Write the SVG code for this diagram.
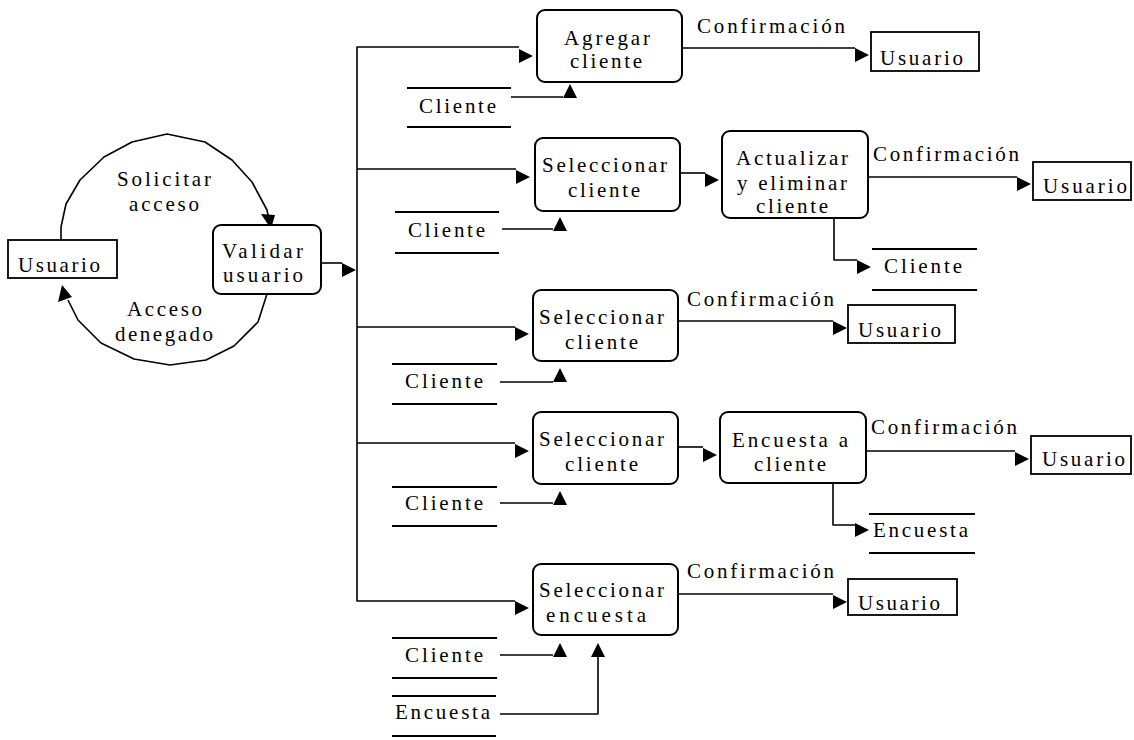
<svg xmlns="http://www.w3.org/2000/svg" xmlns:xlink="http://www.w3.org/1999/xlink" width="1134" height="740" viewBox="0 0 1134 740">
  <style>
    text { font-family: "Liberation Serif", "Times New Roman", serif; font-size: 21px; fill: #000; }
    .proc { fill: #fff; stroke: #000; stroke-width: 2; }
    .ent { fill: #fff; stroke: #000; stroke-width: 1.8; }
    .store { stroke: #000; stroke-width: 2.2; fill: none; }
    .flow { stroke: #000; stroke-width: 1.6; fill: none; stroke-linejoin: round; }
    .head { fill: #000; stroke: none; }
  </style>
  <defs>
    <path id="arrR" d="M0,0 L0,14 L14,7 Z"/>
    <path id="arrU" d="M0,14 L14,14 L7,0 Z"/>
  </defs>
  <rect width="1134" height="740" fill="#fff"/>

  <!-- connectors -->
  <g id="connectors">
    <!-- access loop -->
    <polyline class="flow" points="61,240 61,227 66,204 80,180 104,157 132,142 167,134 205,142 232,160 252,182 267,210 268,215"/>
    <polygon class="head" points="261,214 275,215 271,229"/>
    <polyline class="flow" points="267,294 258,322 234,346 206,360 170,365 134,359 101,343 78,320 68,300"/>
    <polygon class="head" points="58,302 72,297 62,285"/>

    <!-- Validar usuario to bus -->
    <path class="flow" d="M321,263 H342"/>
    <use class="head" href="#arrR" x="342" y="263"/>

    <!-- bus -->
    <path class="flow" d="M519,47 H357 V601 H515"/>
    <path class="flow" d="M357,169 H516"/>
    <path class="flow" d="M357,327 H515"/>
    <path class="flow" d="M357,443 H515"/>
    <use class="head" href="#arrR" x="519" y="49"/>
    <use class="head" href="#arrR" x="516" y="170"/>
    <use class="head" href="#arrR" x="515" y="327"/>
    <use class="head" href="#arrR" x="515" y="444"/>
    <use class="head" href="#arrR" x="515" y="601"/>

    <!-- store reads -->
    <path class="flow" d="M511,97 H563"/>
    <use class="head" href="#arrU" x="563" y="84"/>
    <path class="flow" d="M502,229 H553"/>
    <use class="head" href="#arrU" x="553" y="217"/>
    <path class="flow" d="M500,382 H553"/>
    <use class="head" href="#arrU" x="553" y="368"/>
    <path class="flow" d="M500,503 H553"/>
    <use class="head" href="#arrU" x="553" y="491"/>
    <path class="flow" d="M500,655 H553"/>
    <use class="head" href="#arrU" x="553" y="643"/>
    <path class="flow" d="M500,714 H598 V657"/>
    <use class="head" href="#arrU" x="591" y="643"/>

    <!-- process outputs -->
    <path class="flow" d="M682,48 H855"/>
    <use class="head" href="#arrR" x="855" y="48"/>
    <path class="flow" d="M680,173 H705"/>
    <use class="head" href="#arrR" x="705" y="173"/>
    <path class="flow" d="M868,177 H1017"/>
    <use class="head" href="#arrR" x="1017" y="177"/>
    <path class="flow" d="M834,218 V260 H857"/>
    <use class="head" href="#arrR" x="857" y="260"/>
    <path class="flow" d="M678,321 H833"/>
    <use class="head" href="#arrR" x="833" y="321"/>
    <path class="flow" d="M678,447 H703"/>
    <use class="head" href="#arrR" x="703" y="448"/>
    <path class="flow" d="M866,451 H1015"/>
    <use class="head" href="#arrR" x="1015" y="452"/>
    <path class="flow" d="M833,483 V525 H855"/>
    <use class="head" href="#arrR" x="855" y="523"/>
    <path class="flow" d="M678,594 H833"/>
    <use class="head" href="#arrR" x="833" y="595"/>

    <!-- flow labels -->
    <text x="117" y="186" textLength="94" lengthAdjust="spacing">Solicitar</text>
    <text x="129" y="211" textLength="70" lengthAdjust="spacing">acceso</text>
    <text x="127" y="316" textLength="75" lengthAdjust="spacing">Acceso</text>
    <text x="115" y="341" textLength="98" lengthAdjust="spacing">denegado</text>
    <text x="697" y="33" textLength="148" lengthAdjust="spacing">Confirmación</text>
    <text x="873" y="161" textLength="146" lengthAdjust="spacing">Confirmación</text>
    <text x="687" y="306" textLength="147" lengthAdjust="spacing">Confirmación</text>
    <text x="871" y="434" textLength="146" lengthAdjust="spacing">Confirmación</text>
    <text x="687" y="578" textLength="147" lengthAdjust="spacing">Confirmación</text>
  </g>

  <!-- external entities -->
  <g id="usuario-0">
    <rect class="ent" x="8" y="240" width="109" height="38"/>
    <text x="18" y="272" textLength="82" lengthAdjust="spacing">Usuario</text>
  </g>
  <g id="usuario-1">
    <rect class="ent" x="871" y="32" width="108" height="39"/>
    <text x="880" y="65" textLength="83" lengthAdjust="spacing">Usuario</text>
  </g>
  <g id="usuario-2">
    <rect class="ent" x="1033" y="162" width="98" height="38"/>
    <text x="1043" y="193" textLength="84" lengthAdjust="spacing">Usuario</text>
  </g>
  <g id="usuario-3">
    <rect class="ent" x="848" y="305" width="107" height="38"/>
    <text x="858" y="337" textLength="83" lengthAdjust="spacing">Usuario</text>
  </g>
  <g id="usuario-4">
    <rect class="ent" x="1031" y="436" width="100" height="38"/>
    <text x="1042" y="466" textLength="83" lengthAdjust="spacing">Usuario</text>
  </g>
  <g id="usuario-5">
    <rect class="ent" x="848" y="579" width="109" height="36"/>
    <text x="858" y="610" textLength="82" lengthAdjust="spacing">Usuario</text>
  </g>

  <!-- processes -->
  <g id="validar-usuario">
    <rect class="proc" x="213" y="225" width="108" height="69" rx="8"/>
    <text x="222" y="258" textLength="81" lengthAdjust="spacing">Validar</text>
    <text x="223" y="282" textLength="80" lengthAdjust="spacing">usuario</text>
  </g>
  <g id="agregar-cliente">
    <rect class="proc" x="537" y="10" width="145" height="72" rx="8"/>
    <text x="564" y="45" textLength="86" lengthAdjust="spacing">Agregar</text>
    <text x="570" y="68" textLength="72" lengthAdjust="spacing">cliente</text>
  </g>
  <g id="seleccionar-cliente-1">
    <rect class="proc" x="535" y="138" width="145" height="73" rx="8"/>
    <text x="542" y="172" textLength="125" lengthAdjust="spacing">Seleccionar</text>
    <text x="568" y="197" textLength="72" lengthAdjust="spacing">cliente</text>
  </g>
  <g id="actualizar-eliminar">
    <rect class="proc" x="722" y="131" width="146" height="87" rx="8"/>
    <text x="736" y="165" textLength="112" lengthAdjust="spacing">Actualizar</text>
    <text x="737" y="190" textLength="110" lengthAdjust="spacing">y eliminar</text>
    <text x="756" y="213" textLength="72" lengthAdjust="spacing">cliente</text>
  </g>
  <g id="seleccionar-cliente-2">
    <rect class="proc" x="533" y="290" width="145" height="71" rx="8"/>
    <text x="539" y="324" textLength="125" lengthAdjust="spacing">Seleccionar</text>
    <text x="565" y="349" textLength="73" lengthAdjust="spacing">cliente</text>
  </g>
  <g id="seleccionar-cliente-3">
    <rect class="proc" x="533" y="412" width="145" height="72" rx="8"/>
    <text x="539" y="446" textLength="125" lengthAdjust="spacing">Seleccionar</text>
    <text x="565" y="471" textLength="73" lengthAdjust="spacing">cliente</text>
  </g>
  <g id="encuesta-cliente">
    <rect class="proc" x="720" y="412" width="146" height="71" rx="8"/>
    <text x="732" y="447" textLength="116" lengthAdjust="spacing">Encuesta a</text>
    <text x="754" y="471" textLength="72" lengthAdjust="spacing">cliente</text>
  </g>
  <g id="seleccionar-encuesta">
    <rect class="proc" x="533" y="564" width="145" height="71" rx="8"/>
    <text x="539" y="597" textLength="125" lengthAdjust="spacing">Seleccionar</text>
    <text x="546" y="622" textLength="100" lengthAdjust="spacing">encuesta</text>
  </g>

  <!-- data stores -->
  <g id="store-cliente-1">
    <path class="store" d="M407,88 H511 M407,127 H511"/>
    <text x="419" y="113" textLength="77" lengthAdjust="spacing">Cliente</text>
  </g>
  <g id="store-cliente-2">
    <path class="store" d="M395,212 H499 M395,253 H499"/>
    <text x="408" y="237" textLength="77" lengthAdjust="spacing">Cliente</text>
  </g>
  <g id="store-cliente-3">
    <path class="store" d="M872,249 H977 M872,290 H977"/>
    <text x="884" y="273" textLength="78" lengthAdjust="spacing">Cliente</text>
  </g>
  <g id="store-cliente-4">
    <path class="store" d="M392,364 H497 M392,404 H497"/>
    <text x="405" y="388" textLength="78" lengthAdjust="spacing">Cliente</text>
  </g>
  <g id="store-cliente-5">
    <path class="store" d="M392,487 H497 M392,526 H497"/>
    <text x="405" y="510" textLength="78" lengthAdjust="spacing">Cliente</text>
  </g>
  <g id="store-encuesta-1">
    <path class="store" d="M869,514 H975 M869,553 H975"/>
    <text x="873" y="537" textLength="95" lengthAdjust="spacing">Encuesta</text>
  </g>
  <g id="store-cliente-6">
    <path class="store" d="M392,638 H497 M392,678 H497"/>
    <text x="405" y="662" textLength="78" lengthAdjust="spacing">Cliente</text>
  </g>
  <g id="store-encuesta-2">
    <path class="store" d="M392,696 H496 M392,736 H496"/>
    <text x="395" y="719" textLength="95" lengthAdjust="spacing">Encuesta</text>
  </g>
</svg>
